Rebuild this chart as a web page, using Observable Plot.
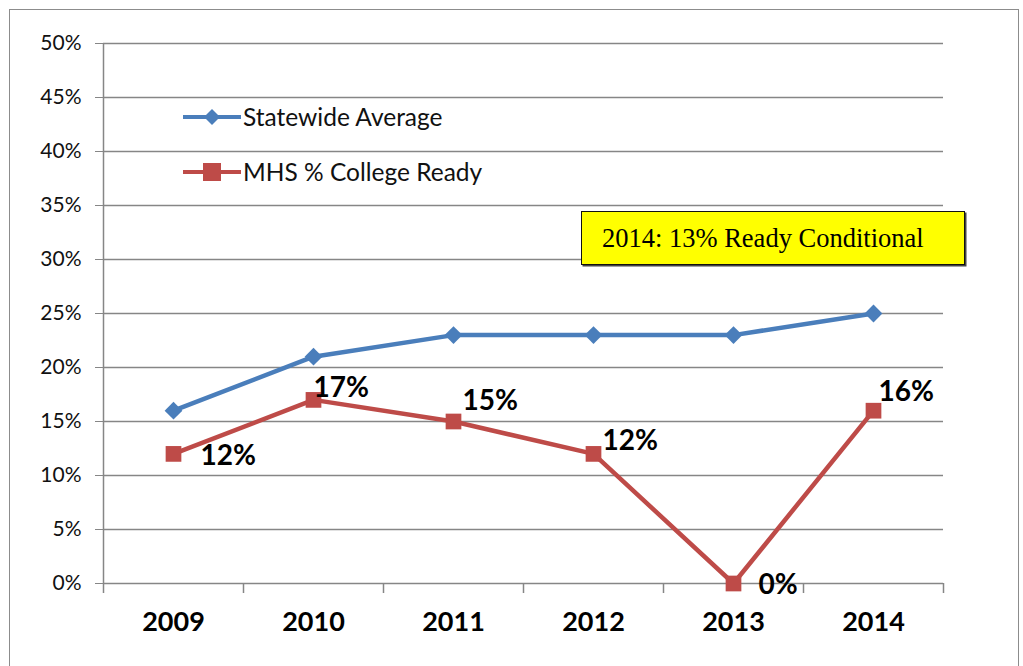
<!DOCTYPE html>
<html><head><meta charset="utf-8">
<script src="https://cdn.jsdelivr.net/npm/d3@7"></script>
<script src="https://cdn.jsdelivr.net/npm/@observablehq/plot@0.6"></script>
<style>
body{margin:0;background:#fff;}
#wrap{position:relative;width:1023px;height:666px;overflow:hidden;font-family:Lato,"Open Sans",sans-serif;}
#border{position:absolute;left:9px;top:9px;width:1010px;height:700px;border:1.5px solid #8c8c8c;box-sizing:border-box;}
#chart{position:absolute;left:0;top:0;}
.leg{position:absolute;left:183px;font-size:24.5px;color:#111;display:flex;align-items:center;white-space:nowrap;}
.leg svg{margin-right:2px;}
#note{position:absolute;left:581px;top:211px;width:384px;height:54px;background:#ffff00;border:1.5px solid #111;box-sizing:border-box;box-shadow:1.5px 1.5px 0 #444;font-family:"Liberation Serif","Times New Roman",serif;font-size:26.5px;color:#000;padding-left:20px;line-height:52px;white-space:nowrap;}
</style></head>
<body><div id="wrap"><div id="border"></div><div id="chart"></div>
<div class="leg" style="top:102px"><svg width="58" height="26"><line x1="0" y1="13" x2="58" y2="13" stroke="#4A7EBB" stroke-width="4" stroke-linecap="round"/><path d="M29 5 L37 13 L29 21 L21 13 Z" fill="#4A7EBB"/></svg><span>Statewide Average</span></div>
<div class="leg" style="top:157px"><svg width="58" height="26"><line x1="0" y1="13" x2="58" y2="13" stroke="#BE4B48" stroke-width="4" stroke-linecap="round"/><rect x="20" y="4" width="18" height="18" fill="#BE4B48"/></svg><span>MHS % College Ready</span></div>
<div id="note">2014: 13% Ready Conditional</div>
</div>
<script>
const years = ["2009","2010","2011","2012","2013","2014"];
const statewide = [16, 21, 23, 23, 23, 25];
const mhs = [12, 17, 15, 12, 0, 16];
const mhsLabels = ["12%","17%","15%","12%","0%","16%"];
const yTicks = [0,5,10,15,20,25,30,35,40,45,50];

const sw = years.map((y,i)=>({year:y, v:statewide[i]/100}));
const mh = years.map((y,i)=>({year:y, v:mhs[i]/100, label:mhsLabels[i]}));
const labelOffsets = [[27,2],[0,-12],[9,-20],[9,-13],[25,2],[5,-19]];
const grid = "#868686";
const step = 140;

const chart = Plot.plot({
  width:1023, height:666,
  marginLeft:103, marginRight:80, marginTop:43, marginBottom:83,
  style:{fontFamily:"Lato, 'Open Sans', sans-serif", background:"transparent"},
  x:{type:"point", domain:years, padding:0.5, label:null},
  y:{domain:[0,0.5], label:null},
  marks:[
    Plot.ruleY(yTicks.map(d=>d/100), {stroke:grid, strokeWidth:1.5}),
    Plot.ruleX([years[0]], {x:d=>d, dx:-step/2, y1:0, y2:0.5, stroke:grid, strokeWidth:1.5}),
    Plot.ruleX(years, {x:d=>d, dx:-step/2, y1:0, y2:0, insetBottom:-10, stroke:grid, strokeWidth:1.5}),
    Plot.ruleX([years[years.length-1]], {x:d=>d, dx:step/2, y1:0, y2:0, insetBottom:-10, stroke:grid, strokeWidth:1.5}),
    Plot.axisY({ticks:yTicks.map(d=>d/100), tickFormat:d=>Math.round(d*100)+"%", tickSize:8, tickPadding:14, stroke:grid, fontSize:21, color:"#111", tickStrokeWidth:1.5, label:null}),
    Plot.axisX({tickSize:0, tickPadding:28, fontSize:27, fontWeight:"bold", color:"#000", label:null}),
    Plot.line(sw, {x:"year", y:"v", stroke:"#4A7EBB", strokeWidth:4.5}),
    Plot.dot(sw, {x:"year", y:"v", symbol:"diamond2", r:8, fill:"#4A7EBB", stroke:"none"}),
    Plot.line(mh, {x:"year", y:"v", stroke:"#BE4B48", strokeWidth:4.5}),
    Plot.dot(mh, {x:"year", y:"v", symbol:"square2", r:10, fill:"#BE4B48", stroke:"none"}),
    ...mh.map((d,i)=>Plot.text([d], {x:"year", y:"v", text:"label", textAnchor:"start", dx:labelOffsets[i][0], dy:labelOffsets[i][1], fontSize:28, fontWeight:"bold", fill:"#000"}))
  ]
});
document.getElementById("chart").appendChild(chart);
</script>
</body></html>
